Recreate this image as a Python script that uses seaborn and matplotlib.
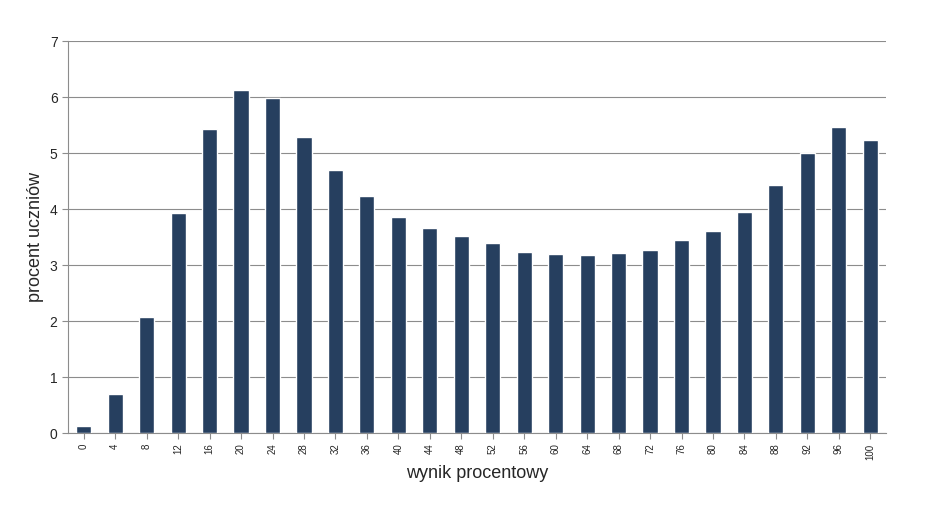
import matplotlib
matplotlib.use("Agg")
import matplotlib.pyplot as plt
import seaborn as sns
import pandas as pd

wynik = [str(v) for v in range(0, 101, 4)]
procent = [0.12, 0.70, 2.07, 3.92, 5.42, 6.13, 5.98, 5.29, 4.69, 4.23, 3.86, 3.66, 3.51,
           3.40, 3.24, 3.20, 3.17, 3.21, 3.27, 3.44, 3.60, 3.94, 4.42, 5.00, 5.47, 5.23]

df = pd.DataFrame({"wynik": wynik, "procent": procent})

sns.set_style("white")
plt.rcParams["font.family"] = ["Liberation Sans", "DejaVu Sans"]

fig = plt.figure(figsize=(9.36, 5.11), dpi=100)
ax = fig.add_axes([68 / 936, 1 - 433 / 511, (886 - 68) / 936, (433 - 41) / 511])
sns.barplot(data=df, x="wynik", y="procent", color="#263f5f", width=0.48,
            saturation=1, ax=ax, zorder=3)
ax.set_ylim(0, 7)
ax.set_xlim(-0.5, len(wynik) - 0.5)
ax.set_yticks(range(0, 8))
ax.grid(axis="y", color="#8c8c8c", lw=0.8, zorder=0)
for s in ax.spines.values():
    s.set_color("#8c8c8c")
    s.set_linewidth(0.8)
ax.spines["top"].set_visible(False)
ax.spines["right"].set_visible(False)
ax.tick_params(axis="x", labelrotation=90, labelsize=7, length=4, color="#8c8c8c", bottom=True)
ax.tick_params(axis="y", labelsize=10, length=4, color="#8c8c8c", left=True)
ax.set_xlabel("wynik procentowy", fontsize=13)
ax.set_ylabel("procent uczniów", fontsize=13)
fig.savefig("out.png", dpi=100)
